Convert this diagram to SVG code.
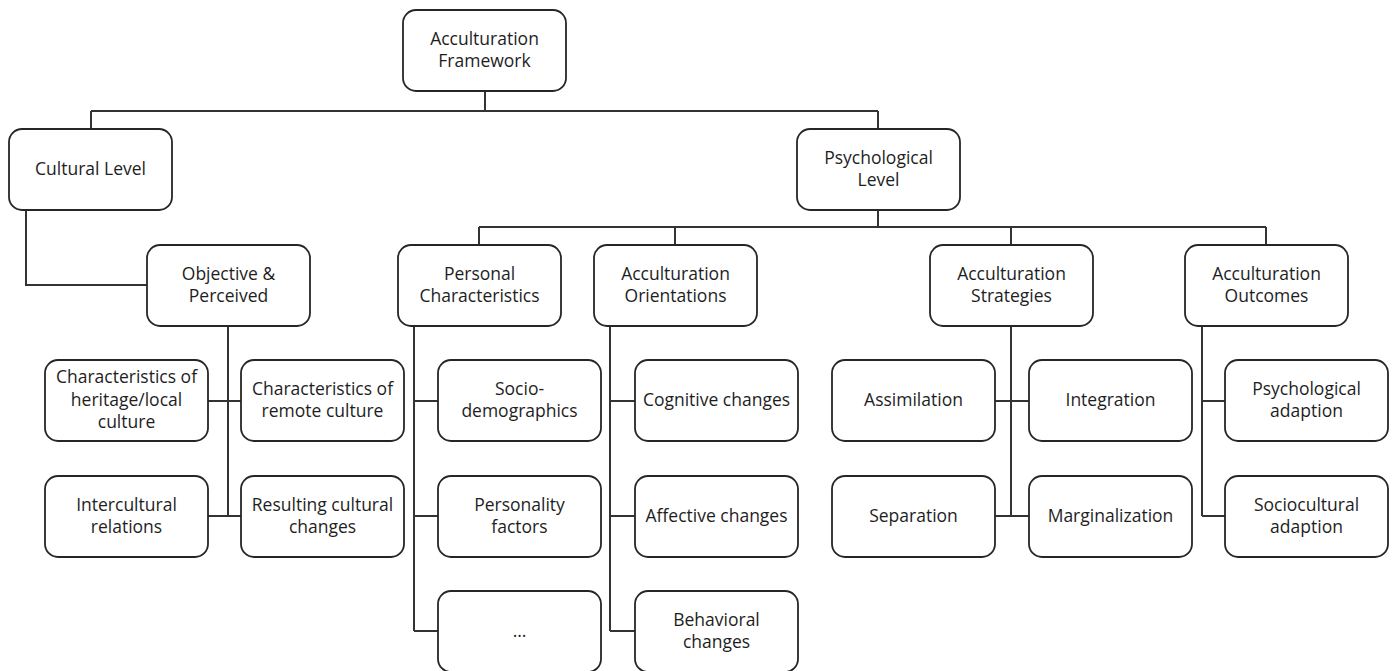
<svg xmlns="http://www.w3.org/2000/svg" width="1392" height="671" viewBox="0 0 1392 671">
<style>
.box{fill:#fff;stroke:#262626;stroke-width:1.8}
.t{font-family:"Open Sans","Noto Sans",sans-serif;font-size:17.5px;fill:#1e1e1e;text-anchor:middle}
.c{fill:none;stroke:#333;stroke-width:2}
</style>
<rect width="1392" height="671" fill="#fff"/>
<g id="connectors" class="c">
<path d="M485,91V111M91,111H878M91,111V129M878,111V129"/>
<path d="M26,210V285H147"/>
<path d="M228,326V516M207,401H241M207,516H241"/>
<path d="M878,210V227M479,227H1266M479,227V245M675,227V245M1011,227V245M1266,227V245"/>
<path d="M414,326V631M414,401H438M414,516H438M414,631H438"/>
<path d="M610,326V631M610,401H635M610,516H635M610,631H635"/>
<path d="M1011,326V516M995,401H1029M995,516H1029"/>
<path d="M1202,326V516M1202,401H1225M1202,516H1225"/>
</g>
<g id="root"><rect class="box" x="403" y="10" width="163" height="81" rx="13"/><text class="t" x="484.5" y="45">Acculturation</text><text class="t" x="484.5" y="67">Framework</text></g>
<g id="cultural"><rect class="box" x="9" y="129" width="163" height="81" rx="13"/><text class="t" x="90.5" y="175">Cultural Level</text></g>
<g id="psych"><rect class="box" x="797" y="129" width="163" height="81" rx="13"/><text class="t" x="878.5" y="164">Psychological</text><text class="t" x="878.5" y="186">Level</text></g>
<g id="objective"><rect class="box" x="147" y="245" width="163" height="81" rx="13"/><text class="t" x="228.5" y="280">Objective &amp;</text><text class="t" x="228.5" y="302">Perceived</text></g>
<g id="heritage"><rect class="box" x="45" y="360" width="163" height="81" rx="13"/><text class="t" x="126.5" y="383">Characteristics of</text><text class="t" x="126.5" y="405.5">heritage/local</text><text class="t" x="126.5" y="428">culture</text></g>
<g id="remote"><rect class="box" x="241" y="360" width="163" height="81" rx="13"/><text class="t" x="322.5" y="395">Characteristics of</text><text class="t" x="322.5" y="417">remote culture</text></g>
<g id="intercultural"><rect class="box" x="45" y="476" width="163" height="81" rx="13"/><text class="t" x="126.5" y="511">Intercultural</text><text class="t" x="126.5" y="533">relations</text></g>
<g id="resulting"><rect class="box" x="241" y="476" width="163" height="81" rx="13"/><text class="t" x="322.5" y="511">Resulting cultural</text><text class="t" x="322.5" y="533">changes</text></g>
<g id="personal"><rect class="box" x="398" y="245" width="163" height="81" rx="13"/><text class="t" x="479.5" y="280">Personal</text><text class="t" x="479.5" y="302">Characteristics</text></g>
<g id="orientations"><rect class="box" x="594" y="245" width="163" height="81" rx="13"/><text class="t" x="675.5" y="280">Acculturation</text><text class="t" x="675.5" y="302">Orientations</text></g>
<g id="strategies"><rect class="box" x="930" y="245" width="163" height="81" rx="13"/><text class="t" x="1011.5" y="280">Acculturation</text><text class="t" x="1011.5" y="302">Strategies</text></g>
<g id="outcomes"><rect class="box" x="1185" y="245" width="163" height="81" rx="13"/><text class="t" x="1266.5" y="280">Acculturation</text><text class="t" x="1266.5" y="302">Outcomes</text></g>
<g id="socio"><rect class="box" x="438" y="360" width="163" height="81" rx="13"/><text class="t" x="519.5" y="395">Socio-</text><text class="t" x="519.5" y="417">demographics</text></g>
<g id="personality"><rect class="box" x="438" y="476" width="163" height="81" rx="13"/><text class="t" x="519.5" y="511">Personality</text><text class="t" x="519.5" y="533">factors</text></g>
<g id="more"><rect class="box" x="438" y="591" width="163" height="81" rx="13"/><text class="t" x="519.5" y="637">…</text></g>
<g id="cognitive"><rect class="box" x="635" y="360" width="163" height="81" rx="13"/><text class="t" x="716.5" y="406">Cognitive changes</text></g>
<g id="affective"><rect class="box" x="635" y="476" width="163" height="81" rx="13"/><text class="t" x="716.5" y="522">Affective changes</text></g>
<g id="behavioral"><rect class="box" x="635" y="591" width="163" height="81" rx="13"/><text class="t" x="716.5" y="626">Behavioral</text><text class="t" x="716.5" y="648">changes</text></g>
<g id="assimilation"><rect class="box" x="832" y="360" width="163" height="81" rx="13"/><text class="t" x="913.5" y="406">Assimilation</text></g>
<g id="integration"><rect class="box" x="1029" y="360" width="163" height="81" rx="13"/><text class="t" x="1110.5" y="406">Integration</text></g>
<g id="separation"><rect class="box" x="832" y="476" width="163" height="81" rx="13"/><text class="t" x="913.5" y="522">Separation</text></g>
<g id="marginalization"><rect class="box" x="1029" y="476" width="163" height="81" rx="13"/><text class="t" x="1110.5" y="522">Marginalization</text></g>
<g id="psychadapt"><rect class="box" x="1225" y="360" width="163" height="81" rx="13"/><text class="t" x="1306.5" y="395">Psychological</text><text class="t" x="1306.5" y="417">adaption</text></g>
<g id="socioadapt"><rect class="box" x="1225" y="476" width="163" height="81" rx="13"/><text class="t" x="1306.5" y="511">Sociocultural</text><text class="t" x="1306.5" y="533">adaption</text></g>
</svg>
